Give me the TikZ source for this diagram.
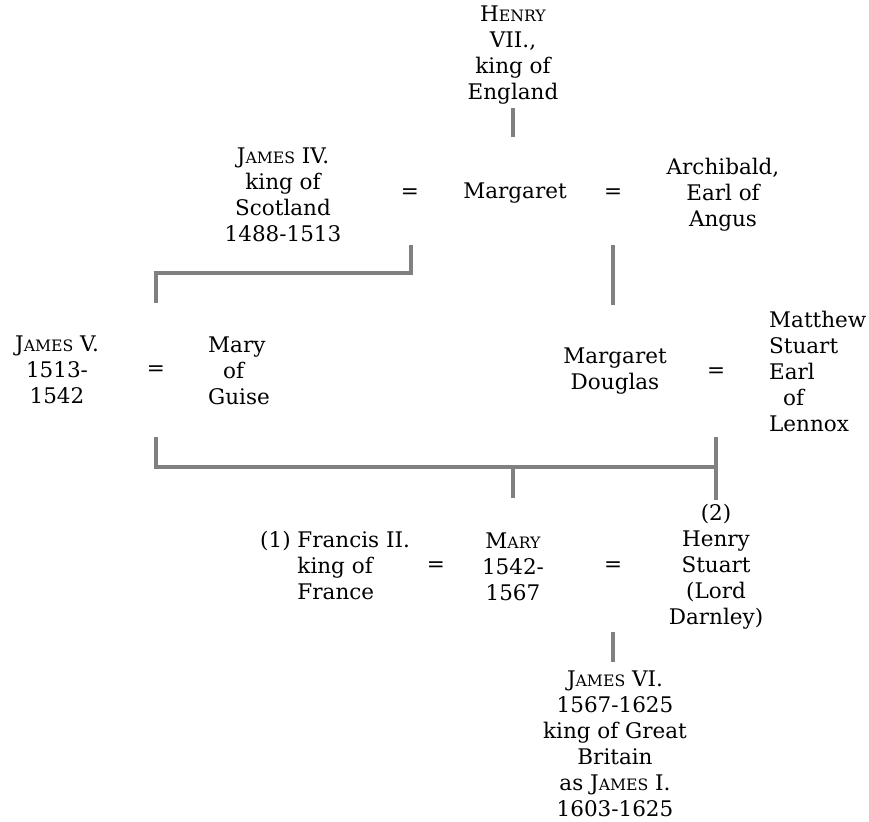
\documentclass[tikz,border=0pt]{standalone}
\usepackage{fontspec}
\setmainfont{DejaVu Serif}
\newcommand{\fsc}[1]{{\fontsize{15.7}{26}\selectfont #1}}
\definecolor{linegray}{RGB}{128,128,128}
\begin{document}
\begin{tikzpicture}[x=1pt,y=-1pt,
  txt/.style={inner sep=0pt, align=center, font=\fontsize{21.5}{26}\selectfont},
  txtl/.style={inner sep=0pt, align=left, font=\fontsize{21.5}{26}\selectfont},
  link/.style={draw=linegray, line width=4pt, line join=miter}]
\useasboundingbox (0,0) rectangle (869,821);
\node[txt] (henry) at (513,55) {H\fsc{ENRY}\\VII.,\\king of\\England};
\node[txt] (j4) at (283,195) {J\fsc{AMES} IV.\\king of\\Scotland\\1488-1513};
\node[txt] (eq1) at (410,194) {=};
\node[txt] (marg) at (515,193) {Margaret};
\node[txt] (eq2) at (613,194) {=};
\node[txt] (arch) at (723,195) {Archibald,\\Earl of\\Angus};
\node[txt] (j5) at (57,370) {J\fsc{AMES} V.\\1513-\\1542};
\node[txt] (eq3) at (156,371) {=};
\node[txtl, anchor=west] (mog) at (208,371) {Mary\\\hspace{15pt}of\\Guise};
\node[txt] (md) at (615,371) {Margaret\\Douglas};
\node[txt] (eq4) at (716,373) {=};
\node[txtl, anchor=west] (ms) at (769,371) {Matthew\\Stuart\\Earl\\\hspace{14pt}of\\Lennox};
\node[txtl, anchor=west] (fr) at (260,567) {(1) Francis II.\\\phantom{(1) }king of\\\phantom{(1) }France};
\node[txt] (eq5) at (436,567) {=};
\node[txt] (mary) at (513,567) {M\fsc{ARY}\\1542-\\1567};
\node[txt] (eq6) at (613,567) {=};
\node[txt] (hs) at (716,567) {(2)\\Henry\\Stuart\\(Lord\\Darnley)};
\node[txt] (j6) at (615,744) {J\fsc{AMES} VI.\\1567-1625\\king of Great\\Britain\\as J\fsc{AMES} I.\\1603-1625};
% junction coordinates
\coordinate (a1) at (513,108); \coordinate (a2) at (513,137);
\coordinate (b1) at (411,245); \coordinate (b2) at (411,273);
\coordinate (b3) at (156,273); \coordinate (b4) at (156,303);
\coordinate (c1) at (613,245); \coordinate (c2) at (613,305);
\coordinate (d1) at (156,437); \coordinate (d2) at (156,467);
\coordinate (d3) at (716,467); \coordinate (d4) at (716,437);
\coordinate (d5) at (716,500);
\coordinate (e1) at (513,467); \coordinate (e2) at (513,498);
\coordinate (f1) at (613,632); \coordinate (f2) at (613,662);
\draw[link] (a1) -- (a2);
\draw[link] (b1) -- (b2) -- (b3) -- (b4);
\draw[link] (c1) -- (c2);
\draw[link] (d1) -- (d2) -- (d3);
\draw[link] (d4) -- (d5);
\draw[link] (e1) -- (e2);
\draw[link] (f1) -- (f2);
\end{tikzpicture}
\end{document}
